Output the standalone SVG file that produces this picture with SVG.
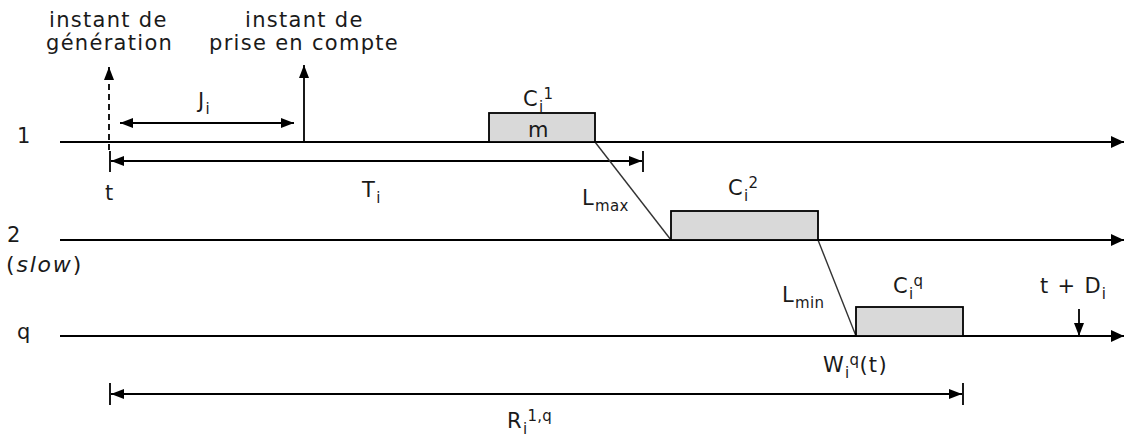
<svg xmlns="http://www.w3.org/2000/svg" width="1126" height="439" viewBox="0 0 1126 439">
<style>
text{font-family:"DejaVu Sans",Verdana,sans-serif;font-size:21px;fill:#1a1a1a;letter-spacing:1.3px}
.sub{font-size:15px;letter-spacing:0.3px}
.ax{stroke:#000;stroke-width:2;fill:none}
.ln{stroke:#000;stroke-width:1.8;fill:none}
.box{fill:#d9d9d9;stroke:#000;stroke-width:1.8}
.dg{stroke:#333;stroke-width:1.4;fill:none}
</style>
<defs>
<marker id="ah" markerUnits="userSpaceOnUse" markerWidth="14" markerHeight="14" refX="13" refY="7" orient="auto-start-reverse"><path d="M0,1 L13,7 L0,13 Z" fill="#000"/></marker>
<marker id="sh" markerUnits="userSpaceOnUse" markerWidth="14" markerHeight="12" refX="13" refY="6" orient="auto-start-reverse"><path d="M0,1 L13,6 L0,11 Z" fill="#000"/></marker>
</defs>
<g id="labels-top">
<text x="49" y="27">instant de</text>
<text x="46" y="50">génération</text>
<text x="245" y="27">instant de</text>
<text x="209" y="50">prise en compte</text>
</g>
<g id="rows">
<text x="17" y="143">1</text>
<text x="7" y="242">2</text>
<text x="6" y="272" style="font-size:22px;letter-spacing:1.8px">(<tspan font-style="italic">slow</tspan>)</text>
<text x="17" y="339">q</text>
</g>
<g id="connectors">
<line class="ax" x1="60" y1="142" x2="1124" y2="142" marker-end="url(#ah)"/>
<line class="ax" x1="60" y1="240" x2="1124" y2="240" marker-end="url(#ah)"/>
<line class="ax" x1="60" y1="336" x2="1124" y2="336" marker-end="url(#ah)"/>
<line class="ln" x1="109" y1="150" x2="109" y2="67" stroke-dasharray="6,4" marker-end="url(#sh)"/>
<line class="ln" x1="304" y1="142" x2="304" y2="65" marker-end="url(#sh)"/>
<line class="ln" x1="120" y1="123" x2="294" y2="123" marker-start="url(#sh)" marker-end="url(#sh)"/>
<line class="ln" x1="110" y1="151" x2="110" y2="172"/>
<line class="ln" x1="111" y1="161" x2="642" y2="161" marker-start="url(#sh)" marker-end="url(#sh)"/>
<line class="ln" x1="643" y1="151" x2="643" y2="172"/>
<line class="dg" x1="595" y1="142" x2="671" y2="240"/>
<line class="dg" x1="818" y1="240" x2="856" y2="336"/>
<line class="ln" x1="1079" y1="309" x2="1079" y2="336" marker-end="url(#sh)"/>
<line class="ln" x1="110" y1="383" x2="110" y2="405"/>
<line class="ln" x1="963" y1="383" x2="963" y2="405"/>
<line class="ln" x1="111" y1="394" x2="962" y2="394" marker-start="url(#sh)" marker-end="url(#sh)"/>
</g>
<g id="box-m">
<rect class="box" x="489" y="113" width="106" height="29"/>
<text x="528" y="137">m</text>
<text x="523" y="106">C<tspan class="sub" dy="6">i</tspan><tspan class="sub" dy="-13">1</tspan></text>
</g>
<g id="box-c2">
<rect class="box" x="671" y="211" width="147" height="29"/>
<text x="728" y="195">C<tspan class="sub" dy="6">i</tspan><tspan class="sub" dy="-13">2</tspan></text>
</g>
<g id="box-cq">
<rect class="box" x="856" y="307" width="107" height="29"/>
<text x="893" y="293">C<tspan class="sub" dy="6">i</tspan><tspan class="sub" dy="-13">q</tspan></text>
</g>
<g id="annotations">
<text x="198" y="108">J<tspan class="sub" dy="6">i</tspan></text>
<text x="105" y="200">t</text>
<text x="362" y="197">T<tspan class="sub" dy="6">i</tspan></text>
<text x="582" y="205">L<tspan class="sub" dy="6">max</tspan></text>
<text x="782" y="302">L<tspan class="sub" dy="6">min</tspan></text>
<text x="1040" y="293">t + D<tspan class="sub" dy="6">i</tspan></text>
<text x="823" y="372">W<tspan class="sub" dy="6">i</tspan><tspan class="sub" dy="-13">q</tspan><tspan dy="7">(t)</tspan></text>
<text x="507" y="428">R<tspan class="sub" dy="6">i</tspan><tspan class="sub" dy="-13">1,q</tspan></text>
</g>
</svg>
